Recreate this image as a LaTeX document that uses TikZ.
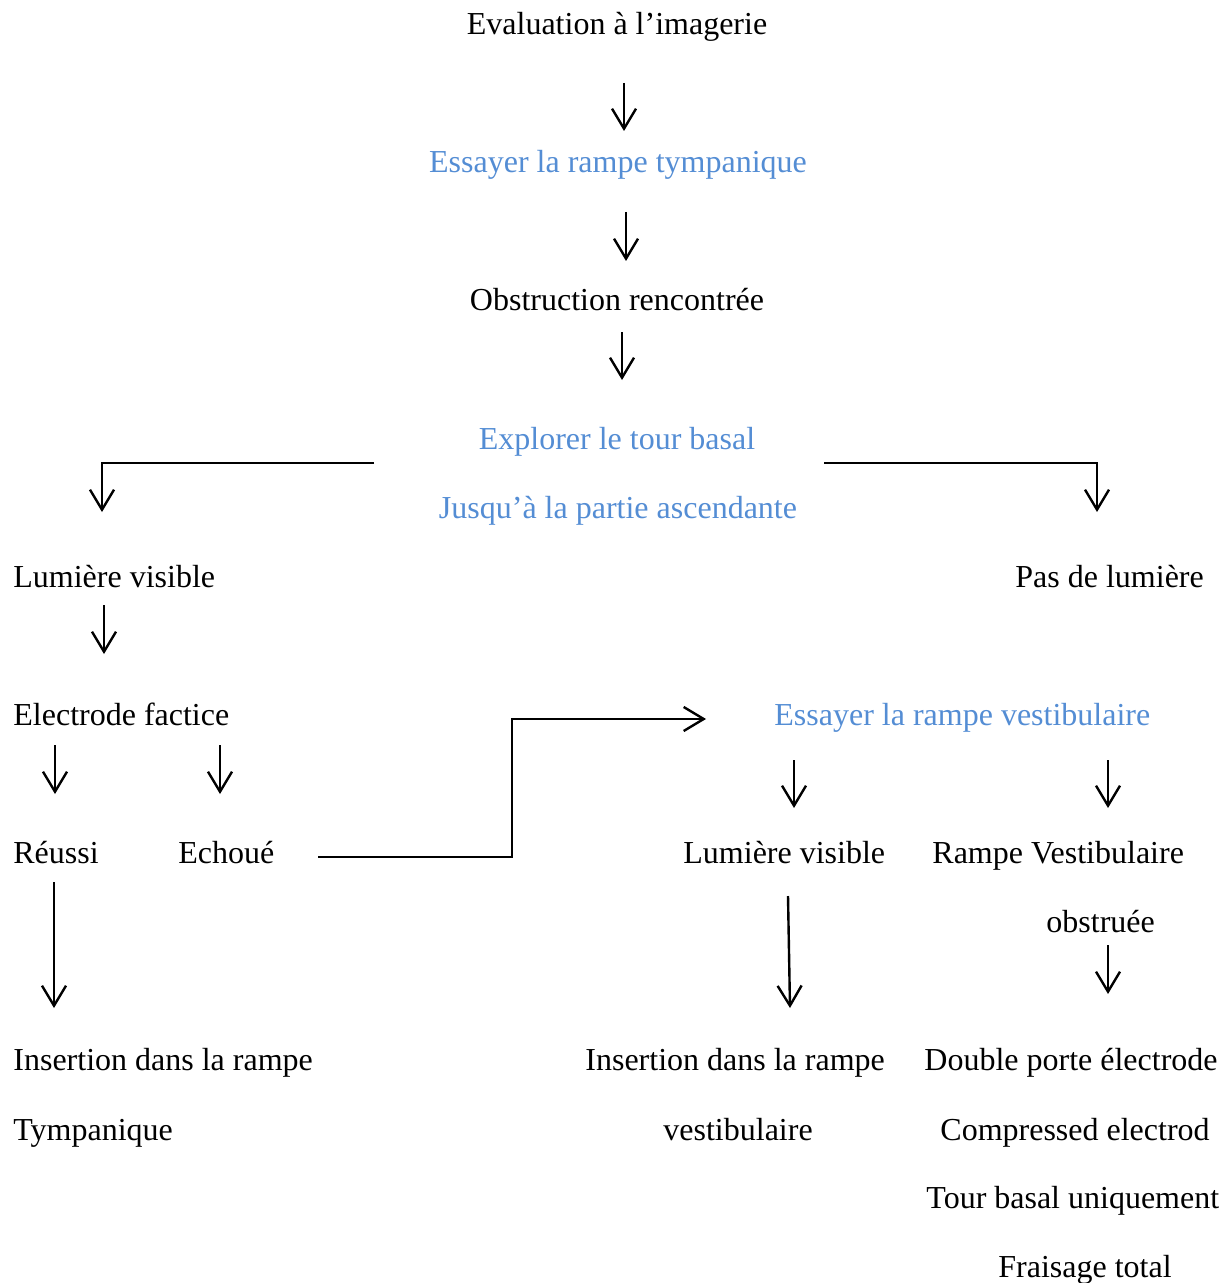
\documentclass[tikz,border=0pt]{standalone}
\usepackage{fontspec}
\setmainfont{Liberation Serif}
\usetikzlibrary{arrows.meta}
\definecolor{stepblue}{RGB}{84,141,212}
\begin{document}
\begin{tikzpicture}[x=0.5pt,y=-0.5pt,
  txt/.style={inner sep=0pt,font=\fontsize{16}{19}\selectfont,text=black},
  bluetxt/.style={txt,text=stepblue},
  conn/.style={line width=1.2pt,-{Straight Barb[length=10pt,width=12pt,line width=1.2pt]}}]
\useasboundingbox (0,0) rectangle (1231,1283);
% main column
\node[txt,anchor=base] (eval) at (617,35) {Evaluation à l’imagerie};
\node[bluetxt,anchor=base] (tymp) at (618,173) {Essayer la rampe tympanique};
\node[txt,anchor=base] (obst) at (617,311) {Obstruction rencontrée};
\node[bluetxt,anchor=base] (expl) at (617,449) {Explorer le tour basal};
\node[bluetxt,anchor=base] (asc) at (618,518) {Jusqu’à la partie ascendante};
% left branch
\node[txt,anchor=base west] (lumL) at (13,587) {Lumière visible};
\node[txt,anchor=base west] (elec) at (13,725) {Electrode factice};
\node[txt,anchor=base west] (reus) at (13,863) {Réussi};
\node[txt,anchor=base west] (echo) at (178,863) {Echoué};
\node[txt,anchor=base west] (insT1) at (13,1070) {Insertion dans la rampe};
\node[txt,anchor=base west] (insT2) at (13,1140) {Tympanique};
% right branch
\node[txt,anchor=base west] (pas) at (1015,587) {Pas de lumière};
\node[bluetxt,anchor=base west] (vest) at (774,725) {Essayer la rampe vestibulaire};
\node[txt,anchor=base west] (lumR) at (683,863) {Lumière visible};
\node[txt,anchor=base west] (obsV1) at (932,863) {Rampe Vestibulaire};
\node[txt,anchor=base west] (obsV2) at (1046,932) {obstruée};
\node[txt,anchor=base west] (insV1) at (585,1070) {Insertion dans la rampe};
\node[txt,anchor=base west] (insV2) at (663,1140) {vestibulaire};
\node[txt,anchor=base west] (dbl) at (924,1070) {Double porte électrode};
\node[txt,anchor=base west] (comp) at (940,1140) {Compressed electrod};
\node[txt,anchor=base west] (tour) at (926,1208) {Tour basal uniquement};
\node[txt,anchor=base west] (frai) at (998,1277) {Fraisage total};
% connector end points
\coordinate (a1s) at (624,83);  \coordinate (a1e) at (624,131);
\coordinate (a2s) at (626,212); \coordinate (a2e) at (626,261);
\coordinate (a3s) at (622,332); \coordinate (a3e) at (622,380);
\coordinate (bLs) at (374,463); \coordinate (bLe) at (102,512);
\coordinate (bRs) at (824,463); \coordinate (bRe) at (1097,512);
\coordinate (a4s) at (104,605); \coordinate (a4e) at (104,654);
\coordinate (a5s) at (55,745);  \coordinate (a5e) at (55,794);
\coordinate (a6s) at (220,745); \coordinate (a6e) at (220,794);
\coordinate (fs) at (318,857);  \coordinate (fm) at (512,857); \coordinate (fe) at (706,719);
\coordinate (a7s) at (794,760); \coordinate (a7e) at (794,808);
\coordinate (a8s) at (1108,760); \coordinate (a8e) at (1108,808);
\coordinate (a9s) at (54,882);  \coordinate (a9e) at (54,1008);
\coordinate (a10s) at (788,896); \coordinate (a10e) at (790,1008);
\coordinate (a11s) at (1108,945); \coordinate (a11e) at (1108,994);
% connectors
\draw[conn] (a1s) -- (a1e);
\draw[conn] (a2s) -- (a2e);
\draw[conn] (a3s) -- (a3e);
\draw[conn] (bLs) -| (bLe);
\draw[conn] (bRs) -| (bRe);
\draw[conn] (a4s) -- (a4e);
\draw[conn] (a5s) -- (a5e);
\draw[conn] (a6s) -- (a6e);
\draw[conn] (fs) -- (fm) |- (fe);
\draw[conn] (a7s) -- (a7e);
\draw[conn] (a8s) -- (a8e);
\draw[conn] (a9s) -- (a9e);
\draw[conn] (a10s) -- (a10e);
\draw[conn] (a11s) -- (a11e);
\end{tikzpicture}
\end{document}
